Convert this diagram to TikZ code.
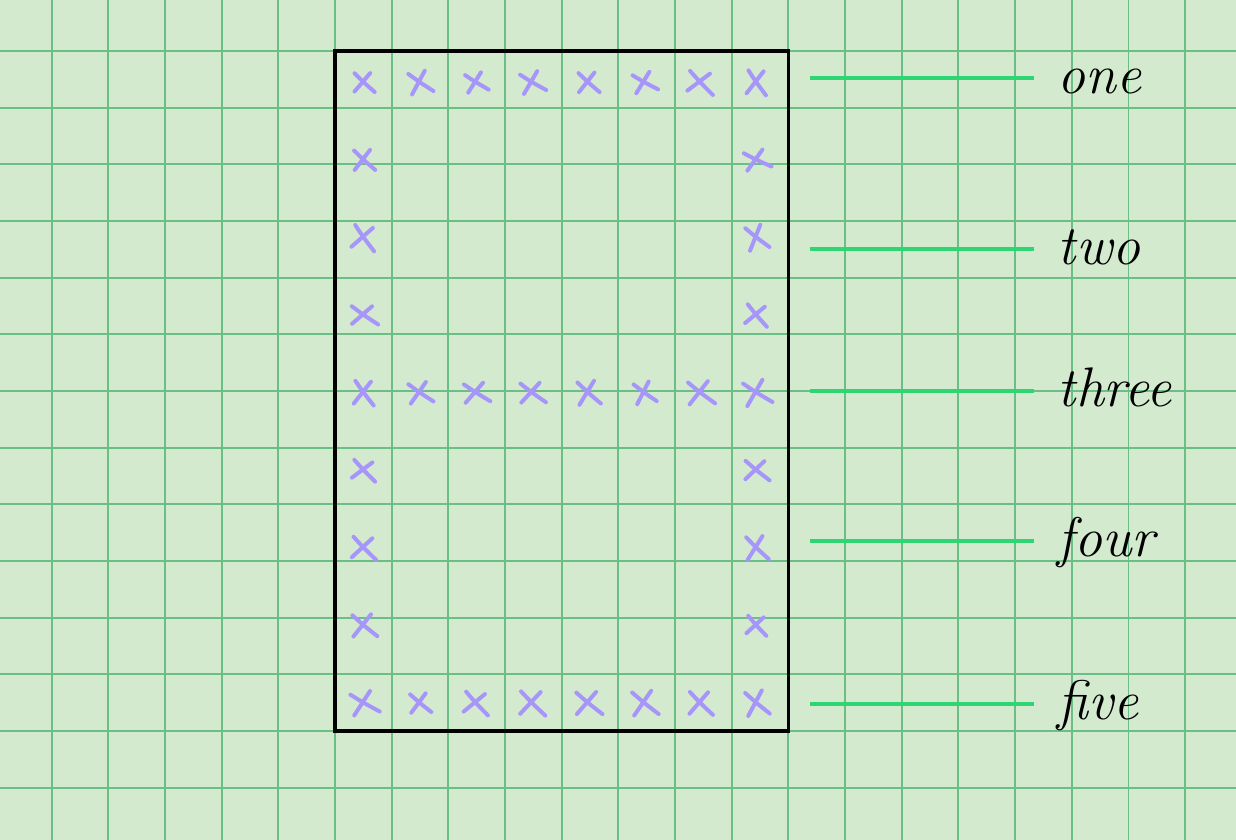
\documentclass[tikz,border=0pt]{standalone}
\definecolor{paper}{HTML}{D4EACE}
\definecolor{rulegreen}{HTML}{6CBE87}
\definecolor{pen}{HTML}{A796FA}
\definecolor{leadgreen}{HTML}{2ED673}
\tikzset{
  xcross/.pic={
    \draw[pen,line width=2pt,line cap=round] (-0.18,0.17) .. controls (0,0) .. (0.23,-0.19);
    \draw[pen,line width=2pt,line cap=round] (0.13,0.18) .. controls (0,0.02) .. (-0.17,-0.19);
  }
}
\begin{document}
\begin{tikzpicture}[
  frame/.style={draw=black,line width=1.8pt},
  leader/.style={draw=leadgreen,line width=2pt},
  tag/.style={anchor=base west,inner xsep=0.42cm,inner ysep=0pt,font=\fontsize{28}{32}\selectfont\itshape}]
\pgfmathsetseed{7}
% paper and grid
\fill[paper] (-5.912,-1.923) rectangle (15.899,12.899);
\useasboundingbox (-5.912,-1.923) rectangle (15.899,12.899);
\draw[rulegreen,line width=0.9pt] (-5.912,-1.923) grid (15.899,12.899);
\draw[frame] (0,0) rectangle (8,12);
% crosses round the frame and across the middle
\foreach \i in {0,...,7}
  \foreach \j in {0,4,8}
    \pic[rotate=12*rand,scale=0.85+0.3*rnd] at (0.5+0.99*\i,11.45-1.369*\j) {xcross};
\foreach \j in {1,2,3,5,6,7}
  \foreach \i in {0,7}
    \pic[rotate=12*rand,scale=0.85+0.3*rnd] at (0.5+0.99*\i,11.45-1.369*\j) {xcross};
% labels
\foreach \n/\word/\y in {1/one/11.52,2/two/8.505,3/three/6.0,4/four/3.35,5/five/0.476}{
  \coordinate (s\n) at (8.38,\y);
  \node[tag] (t\n) at (12.33,\y-0.27) {\word};
  \draw[leader] (s\n) -- (s\n -| t\n.west);
}
\end{tikzpicture}
\end{document}
